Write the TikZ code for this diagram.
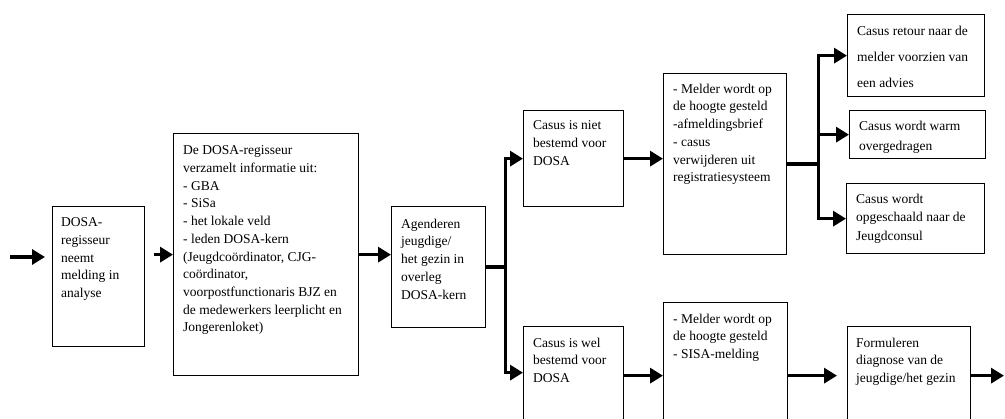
\documentclass[tikz,border=0pt]{standalone}
\usepackage{fontspec}
\setmainfont{Liberation Serif}
\usetikzlibrary{arrows.meta,calc}
\tikzset{
  box/.style={draw, line width=1.3pt, anchor=north west, inner sep=0pt},
  txt/.style={anchor=north west, inner sep=0pt, align=left, font=\fontsize{13.5}{17.7}\selectfont},
  arr/.style={line width=3.5pt, -{Triangle[length=13pt,width=15pt]}},
}
\begin{document}
\begin{tikzpicture}[x=1pt,y=-1pt]
\useasboundingbox (0,0) rectangle (1005,419);
\clip (0,0) rectangle (1005,419);
% boxes
\node[box, minimum width=92pt,  minimum height=140pt] (b1) at (52,206) {};
\node[box, minimum width=185pt, minimum height=242pt] (b2) at (173,133) {};
\node[box, minimum width=94pt,  minimum height=121pt] (b3) at (391,206) {};
\node[box, minimum width=100pt, minimum height=96pt]  (b4) at (523,110) {};
\node[box, minimum width=123pt, minimum height=181pt] (b5) at (663,73) {};
\node[box, minimum width=100pt, minimum height=120pt] (b6) at (523,326) {};
\node[box, minimum width=124pt, minimum height=140pt] (b7) at (663,302) {};
\node[box, minimum width=123pt, minimum height=120pt] (b8) at (847,326) {};
\node[box, minimum width=137pt, minimum height=82pt]  (r1) at (847,14) {};
\node[box, minimum width=136pt, minimum height=48pt]  (r2) at (849,110) {};
\node[box, minimum width=138pt, minimum height=70pt]  (r3) at (846,183) {};
% texts
\node[txt] (t1) at ($(b1.north west)+(9,11.5)$) {DOSA-\\regisseur\\neemt\\melding in\\analyse};
\node[txt] (t2) at ($(b2.north west)+(10,12.7)$) {De DOSA-regisseur\\verzamelt informatie uit:\\- GBA\\- SiSa\\- het lokale veld\\- leden DOSA-kern\\(Jeugdcoördinator, CJG-\\coördinator,\\voorpostfunctionaris BJZ en\\de medewerkers leerplicht en\\Jongerenloket)};
\node[txt] (t3) at ($(b3.north west)+(10,12.7)$) {Agenderen\\jeugdige/\\het gezin in\\overleg\\DOSA-kern};
\node[txt] (t4) at ($(b4.north west)+(10,10.7)$) {Casus is niet\\bestemd voor\\DOSA};
\node[txt] (t5) at ($(b5.north west)+(10,10.7)$) {- Melder wordt op\\de hoogte gesteld\\-afmeldingsbrief\\- casus\\verwijderen uit\\registratiesysteem};
\node[txt] (t6) at ($(b6.north west)+(10,11.7)$) {Casus is wel\\bestemd voor\\DOSA};
\node[txt] (t7) at ($(b7.north west)+(10,11.7)$) {- Melder wordt op\\de hoogte gesteld\\- SISA-melding};
\node[txt] (t8) at ($(b8.north west)+(9,11.7)$) {Formuleren\\diagnose van de\\jeugdige/het gezin};
\node[txt, font=\fontsize{13.5}{26}\selectfont] (tr1) at ($(r1.north west)+(10,11.7)$) {Casus retour naar de\\melder voorzien van\\een advies};
\node[txt, font=\fontsize{13.5}{19.3}\selectfont] (tr2) at ($(r2.north west)+(10,11.4)$) {Casus wordt warm\\overgedragen};
\node[txt, font=\fontsize{13.5}{18.5}\selectfont] (tr3) at ($(r3.north west)+(10,10.7)$) {Casus wordt\\opgeschaald naar de\\Jeugdconsul};
% connectors
\coordinate (start) at (10,257);
\draw[arr, shorten >=7pt] (start) -- (start -| b1.west);
\coordinate (a12) at ([yshift=22pt]b1.east);
\draw[arr, shorten <=9pt] (a12) -- (a12 -| b2.west);
\draw[arr] (b2.east) -- (b2.east -| b3.west);
\coordinate (s1) at ($(b3.east)+(19,0)$);
\coordinate (e6) at ([yshift=14pt]b6.west);
\draw[arr] (b3.east) -- (s1) |- (b4.west);
\draw[arr] (s1) |- (e6);
\draw[arr] (b4.east) -- (b4.east -| b5.west);
\coordinate (s2) at ($(b5.east)+(31,0)$);
\draw[arr] (b5.east) -- (s2) |- (r1.west);
\draw[arr] (s2) |- (r2.west);
\draw[arr] (s2) |- (r3.west);
\coordinate (a67) at ([yshift=11pt]b6.east);
\draw[arr] (a67) -- (a67 -| b7.west);
\coordinate (a78) at (a67 -| b7.east);
\draw[arr, shorten >=10pt] (a78) -- (a78 -| b8.west);
\coordinate (a8) at (a67 -| b8.east);
\coordinate (out) at (1004,375);
\draw[arr] (a8) -- (a8 -| out);
\end{tikzpicture}
\end{document}
